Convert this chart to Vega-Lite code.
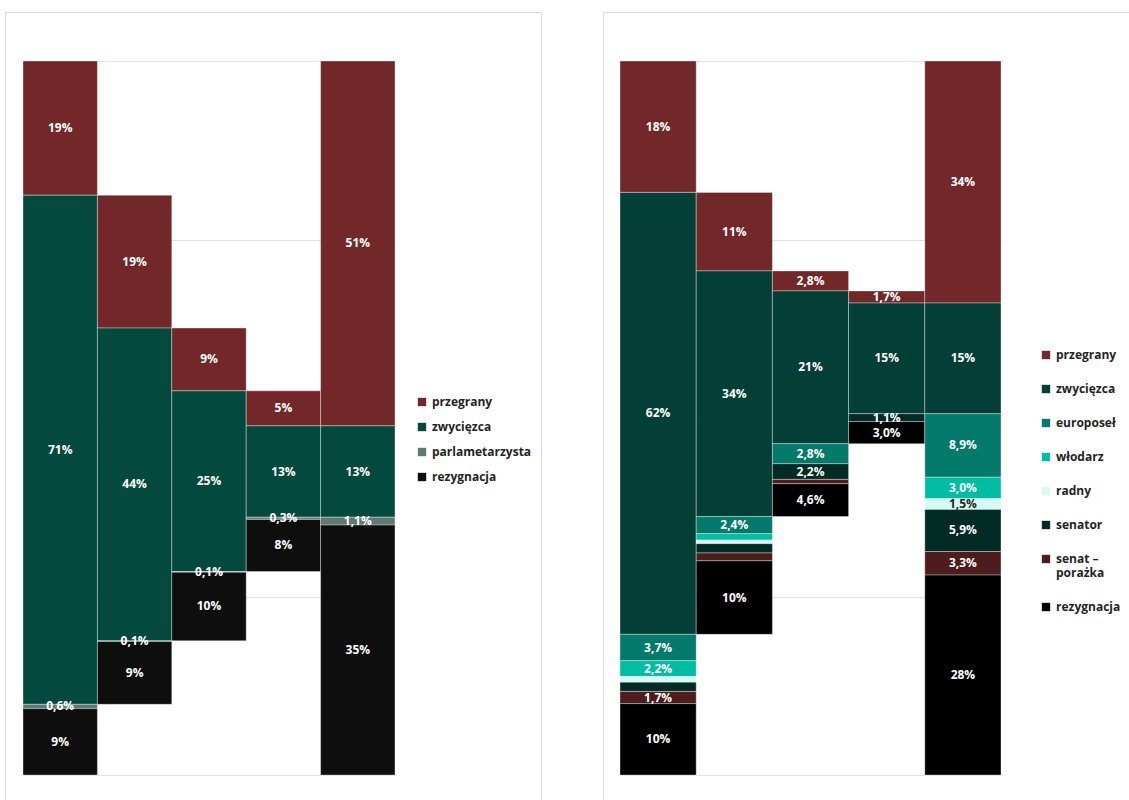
{
  "$schema": "https://vega.github.io/schema/vega-lite/v6.json",
  "padding": {"left": 4, "top": 11, "right": 0, "bottom": 0},
  "background": "#ffffff",
  "spacing": 60,
  "config": {
    "view": {"stroke": "#dadada", "strokeWidth": 1},
    "font": "Open Sans",
    "axis": {"minExtent": 0, "maxExtent": 0}
  },
  "resolve": {"scale": {"color": "independent", "x": "independent", "y": "independent"}, "legend": {"color": "independent"}},
  "hconcat": [
    {
      "width": 536,
      "height": 789,
      "data": {"values": [
        {"col": "1", "cat": "przegrany", "o": 1, "value": 18.8, "label": "19%"},
        {"col": "1", "cat": "zwycięzca", "o": 2, "value": 71.3, "label": "71%"},
        {"col": "1", "cat": "parlametarzysta", "o": 3, "value": 0.6, "label": "0,6%"},
        {"col": "1", "cat": "rezygnacja", "o": 4, "value": 9.3, "label": "9%"},
        {"col": "2", "cat": "gap", "o": 0, "value": 18.8, "label": ""},
        {"col": "2", "cat": "przegrany", "o": 1, "value": 18.6, "label": "19%"},
        {"col": "2", "cat": "zwycięzca", "o": 2, "value": 43.8, "label": "44%"},
        {"col": "2", "cat": "parlametarzysta", "o": 3, "value": 0.1, "label": "0,1%"},
        {"col": "2", "cat": "rezygnacja", "o": 4, "value": 8.8, "label": "9%"},
        {"col": "3", "cat": "gap", "o": 0, "value": 37.4, "label": ""},
        {"col": "3", "cat": "przegrany", "o": 1, "value": 8.8, "label": "9%"},
        {"col": "3", "cat": "zwycięzca", "o": 2, "value": 25.3, "label": "25%"},
        {"col": "3", "cat": "parlametarzysta", "o": 3, "value": 0.1, "label": "0,1%"},
        {"col": "3", "cat": "rezygnacja", "o": 4, "value": 9.6, "label": "10%"},
        {"col": "4", "cat": "gap", "o": 0, "value": 46.2, "label": ""},
        {"col": "4", "cat": "przegrany", "o": 1, "value": 4.9, "label": "5%"},
        {"col": "4", "cat": "zwycięzca", "o": 2, "value": 12.8, "label": "13%"},
        {"col": "4", "cat": "parlametarzysta", "o": 3, "value": 0.3, "label": "0,3%"},
        {"col": "4", "cat": "rezygnacja", "o": 4, "value": 7.3, "label": "8%"},
        {"col": "5", "cat": "przegrany", "o": 1, "value": 51.1, "label": "51%"},
        {"col": "5", "cat": "zwycięzca", "o": 2, "value": 12.8, "label": "13%"},
        {"col": "5", "cat": "parlametarzysta", "o": 3, "value": 1.1, "label": "1,1%"},
        {"col": "5", "cat": "rezygnacja", "o": 4, "value": 35.0, "label": "35%"}
      ]},
      "layer": [
        {
          "mark": {"type": "bar", "stroke": "#ffffff", "strokeOpacity": 0.35, "strokeWidth": 1},
          "encoding": {
            "x": {"field": "col", "type": "nominal", "sort": null, "axis": null,
                  "scale": {"type": "band", "range": [18, 390], "paddingInner": 0, "paddingOuter": 0}},
            "y": {"field": "value", "type": "quantitative", "stack": "zero",
                  "scale": {"domain": [0, 100], "range": [49, 763], "nice": false, "zero": false},
                  "axis": {"title": null, "labels": false, "ticks": false, "domain": false, "grid": true,
                           "values": [0, 25, 50, 75, 100], "gridColor": "#e3e3e3", "gridWidth": 1}},
            "order": {"field": "o", "type": "quantitative"},
            "opacity": {"condition": {"test": "datum.cat === 'gap'", "value": 0}, "value": 1},
            "color": {"condition": {"test": "datum.cat === 'gap'", "value": "transparent"},
                      "field": "cat", "type": "nominal",
                      "scale": {"domain": ["przegrany", "zwycięzca", "parlametarzysta", "rezygnacja"],
                                "range": ["#722828", "#04493e", "#5e7a73", "#0e0e0e"]},
                      "legend": {"orient": "none", "legendX": 411, "legendY": 384, "title": null,
                                 "symbolType": "square", "symbolSize": 70, "symbolStrokeWidth": 0,
                                 "labelFont": "Open Sans", "labelFontSize": 12, "labelFontWeight": "bold",
                                 "labelColor": "#252423", "rowPadding": 13, "labelOffset": 4, "padding": 0}}
          }
        },
        {
          "mark": {"type": "text", "font": "Open Sans", "fontSize": 12, "fontWeight": "bold", "align": "center", "baseline": "middle"},
          "encoding": {
            "x": {"field": "col", "type": "nominal", "sort": null},
            "y": {"field": "value", "type": "quantitative", "stack": "zero", "bandPosition": 0.5},
            "order": {"field": "o", "type": "quantitative"},
            "detail": {"field": "cat", "type": "nominal"},
            "text": {"field": "label"},
            "color": {"value": "#ffffff"}
          }
        }
      ]
    },
    {
      "width": 527,
      "height": 789,
      "data": {"values": [
        {"col": "1", "cat": "przegrany", "o": 1, "value": 18.4, "label": "18%"},
        {"col": "1", "cat": "zwycięzca", "o": 2, "value": 61.9, "label": "62%"},
        {"col": "1", "cat": "europoseł", "o": 3, "value": 3.7, "label": "3,7%"},
        {"col": "1", "cat": "włodarz", "o": 4, "value": 2.2, "label": "2,2%"},
        {"col": "1", "cat": "radny", "o": 5, "value": 0.8, "label": ""},
        {"col": "1", "cat": "senator", "o": 6, "value": 1.3, "label": ""},
        {"col": "1", "cat": "senat – porażka", "o": 7, "value": 1.7, "label": "1,7%"},
        {"col": "1", "cat": "rezygnacja", "o": 8, "value": 10.0, "label": "10%"},
        {"col": "2", "cat": "gap", "o": 0, "value": 18.4, "label": ""},
        {"col": "2", "cat": "przegrany", "o": 1, "value": 11.0, "label": "11%"},
        {"col": "2", "cat": "zwycięzca", "o": 2, "value": 34.4, "label": "34%"},
        {"col": "2", "cat": "europoseł", "o": 3, "value": 2.4, "label": "2,4%"},
        {"col": "2", "cat": "włodarz", "o": 4, "value": 0.9, "label": ""},
        {"col": "2", "cat": "radny", "o": 5, "value": 0.5, "label": ""},
        {"col": "2", "cat": "senator", "o": 6, "value": 1.3, "label": ""},
        {"col": "2", "cat": "senat – porażka", "o": 7, "value": 1.1, "label": ""},
        {"col": "2", "cat": "rezygnacja", "o": 8, "value": 10.3, "label": "10%"},
        {"col": "3", "cat": "gap", "o": 0, "value": 29.4, "label": ""},
        {"col": "3", "cat": "przegrany", "o": 1, "value": 2.8, "label": "2,8%"},
        {"col": "3", "cat": "zwycięzca", "o": 2, "value": 21.4, "label": "21%"},
        {"col": "3", "cat": "europoseł", "o": 3, "value": 2.8, "label": "2,8%"},
        {"col": "3", "cat": "senator", "o": 6, "value": 2.2, "label": "2,2%"},
        {"col": "3", "cat": "senat – porażka", "o": 7, "value": 0.6, "label": ""},
        {"col": "3", "cat": "rezygnacja", "o": 8, "value": 4.6, "label": "4,6%"},
        {"col": "4", "cat": "gap", "o": 0, "value": 32.2, "label": ""},
        {"col": "4", "cat": "przegrany", "o": 1, "value": 1.7, "label": "1,7%"},
        {"col": "4", "cat": "zwycięzca", "o": 2, "value": 15.5, "label": "15%"},
        {"col": "4", "cat": "senator", "o": 6, "value": 1.1, "label": "1,1%"},
        {"col": "4", "cat": "rezygnacja", "o": 8, "value": 3.1, "label": "3,0%"},
        {"col": "5", "cat": "przegrany", "o": 1, "value": 33.9, "label": "34%"},
        {"col": "5", "cat": "zwycięzca", "o": 2, "value": 15.5, "label": "15%"},
        {"col": "5", "cat": "europoseł", "o": 3, "value": 8.9, "label": "8,9%"},
        {"col": "5", "cat": "włodarz", "o": 4, "value": 3.0, "label": "3,0%"},
        {"col": "5", "cat": "radny", "o": 5, "value": 1.5, "label": "1,5%"},
        {"col": "5", "cat": "senator", "o": 6, "value": 5.9, "label": "5,9%"},
        {"col": "5", "cat": "senat – porażka", "o": 7, "value": 3.3, "label": "3,3%"},
        {"col": "5", "cat": "rezygnacja", "o": 8, "value": 28.0, "label": "28%"}
      ]},
      "layer": [
        {
          "mark": {"type": "bar", "stroke": "#ffffff", "strokeOpacity": 0.35, "strokeWidth": 1},
          "encoding": {
            "x": {"field": "col", "type": "nominal", "sort": null, "axis": null,
                  "scale": {"type": "band", "range": [17, 398], "paddingInner": 0, "paddingOuter": 0}},
            "y": {"field": "value", "type": "quantitative", "stack": "zero",
                  "scale": {"domain": [0, 100], "range": [49, 763], "nice": false, "zero": false},
                  "axis": {"title": null, "labels": false, "ticks": false, "domain": false, "grid": true,
                           "values": [0, 25, 50, 75, 100], "gridColor": "#e3e3e3", "gridWidth": 1}},
            "order": {"field": "o", "type": "quantitative"},
            "opacity": {"condition": {"test": "datum.cat === 'gap'", "value": 0}, "value": 1},
            "color": {"condition": {"test": "datum.cat === 'gap'", "value": "transparent"},
                      "field": "cat", "type": "nominal",
                      "scale": {"domain": ["przegrany", "zwycięzca", "europoseł", "włodarz", "radny", "senator", "senat – porażka", "rezygnacja"],
                                "range": ["#722828", "#033f37", "#037a6b", "#02bda3", "#d5fbf3", "#032b26", "#4d1c1c", "#000000"]},
                      "legend": {"orient": "none", "legendX": 437, "legendY": 337, "title": null,
                                 "symbolType": "square", "symbolSize": 70, "symbolStrokeWidth": 0,
                                 "labelFont": "Open Sans", "labelFontSize": 12, "labelFontWeight": "bold",
                                 "labelColor": "#252423", "rowPadding": 22, "labelOffset": 4, "padding": 0,
                                 "labelExpr": "datum.label == 'senat – porażka' ? ['senat –', 'porażka'] : datum.label"}}
          }
        },
        {
          "mark": {"type": "text", "font": "Open Sans", "fontSize": 12, "fontWeight": "bold", "align": "center", "baseline": "middle"},
          "encoding": {
            "x": {"field": "col", "type": "nominal", "sort": null},
            "y": {"field": "value", "type": "quantitative", "stack": "zero", "bandPosition": 0.5},
            "order": {"field": "o", "type": "quantitative"},
            "detail": {"field": "cat", "type": "nominal"},
            "text": {"field": "label"},
            "color": {"condition": {"test": "datum.cat === 'radny'", "value": "#252423"}, "value": "#ffffff"}
          }
        }
      ]
    }
  ]
}
